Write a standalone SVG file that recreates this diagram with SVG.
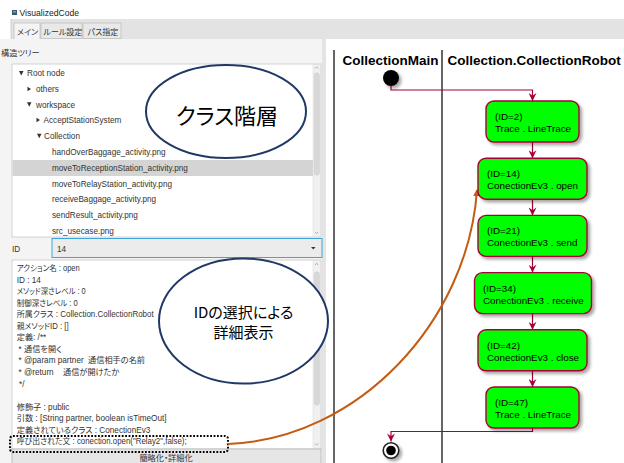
<svg xmlns="http://www.w3.org/2000/svg" width="624" height="463" viewBox="0 0 624 463">
<defs>
<style>
.ui{font-family:"Liberation Sans","Noto Sans CJK JP",sans-serif;font-size:8.2px;fill:#333;font-feature-settings:"palt"}
.tab{font-family:"Noto Sans CJK JP",sans-serif;font-size:8px;fill:#333;font-feature-settings:"palt"}
.box{fill:#00ff00;stroke:#a80036;stroke-width:1.4;filter:url(#sh)}
.bt{font-family:"Liberation Sans",sans-serif;font-size:9.8px;fill:#000}
.hd{font-family:"Liberation Sans",sans-serif;font-size:13.5px;font-weight:bold;fill:#000}
.conn{fill:none;stroke:#a80036;stroke-width:1.2}
.el{fill:#fff;stroke:#203864;stroke-width:2}
.big{font-family:"Noto Sans CJK JP",sans-serif;fill:#000;text-anchor:middle;font-feature-settings:"palt"}
.tri{fill:#333}
.sb{fill:#f0f0f0;stroke:#dcdcdc;stroke-width:0.5}
.thumb{fill:#d8d8d8;stroke:#c4c4c4;stroke-width:0.5}
.lane{stroke:#333;stroke-width:1.5}
</style>
<filter id="sh" x="-20%" y="-20%" width="150%" height="150%">
<feDropShadow dx="2.5" dy="2.5" stdDeviation="1.5" flood-color="#000" flood-opacity="0.35"/>
</filter>
<marker id="ar" viewBox="0 0 10 10" refX="10" refY="5" markerWidth="10" markerHeight="8" orient="auto" markerUnits="userSpaceOnUse">
<path d="M0,0 L10,5 L0,10 L3.5,5 z" fill="#a80036"/>
</marker>
<marker id="ao" viewBox="0 0 10 10" refX="9" refY="5" markerWidth="7" markerHeight="7" orient="auto" markerUnits="userSpaceOnUse">
<path d="M0,0 L10,5 L0,10 z" fill="#c55a11"/>
</marker>
</defs>

<rect x="0" y="0" width="624" height="463" fill="#fff"/>

<!-- title bar -->
<g id="titlebar">
<rect x="12" y="10" width="5" height="5" fill="#3c5a78"/>
<rect x="13" y="11" width="3" height="1.5" fill="#7fb24a"/>
<text class="ui" x="19.5" y="16" style="fill:#222;font-size:8.6px">VisualizedCode</text>
</g>

<!-- tab band -->
<g id="tabs">
<rect x="11" y="19" width="613" height="20" fill="#e3e3e3"/>
<line x1="11" y1="19" x2="11" y2="463" stroke="#c8c8c8" stroke-width="0.8"/>
<rect x="41" y="23" width="41" height="15.5" fill="#e9e9e9" stroke="#b9b9b9" stroke-width="0.7"/>
<rect x="83" y="23" width="38" height="15.5" fill="#e9e9e9" stroke="#b9b9b9" stroke-width="0.7"/>
<path d="M14,39.5 V23 H40 V39.5" fill="#f4f4f4" stroke="#b9b9b9" stroke-width="0.7"/>
<text class="tab" x="17" y="35">メイン</text>
<text class="tab" x="43.5" y="35">ルール設定</text>
<text class="tab" x="87.5" y="35">パス指定</text>
</g>

<!-- left panel background -->
<rect x="0" y="39" width="322" height="424" fill="#f4f4f4"/>
<rect x="322" y="39" width="4" height="424" fill="#e4e4e4"/>

<!-- structure tree -->
<g id="tree">
<text class="ui" x="1" y="56">構造ツリー</text>
<rect x="12" y="64" width="309" height="173" fill="#fff" stroke="#c8c8c8" stroke-width="0.8"/>
<rect x="12.5" y="160" width="300.5" height="16" fill="#d4d4d4"/>
<polygon class="tri" points="19,71 23.5,71 21.25,75.5"/>
<text class="ui" x="27" y="76">Root node</text>
<polygon class="tri" points="27.5,86.8 31,89 27.5,91.2"/>
<text class="ui" x="36" y="92">others</text>
<polygon class="tri" points="27,102.3 31.5,102.3 29.25,106.8"/>
<text class="ui" x="36" y="107.5">workspace</text>
<polygon class="tri" points="36.5,117.8 40,120 36.5,122.2"/>
<text class="ui" x="43.5" y="123">AcceptStationSystem</text>
<polygon class="tri" points="37,133.8 41.5,133.8 39.25,138.3"/>
<text class="ui" x="44" y="139">Collection</text>
<text class="ui" x="52" y="155">handOverBaggage_activity.png</text>
<text class="ui" x="52" y="171">moveToReceptionStation_activity.png</text>
<text class="ui" x="52" y="187">moveToRelayStation_activity.png</text>
<text class="ui" x="52" y="202">receiveBaggage_activity.png</text>
<text class="ui" x="52" y="218">sendResult_activity.png</text>
<text class="ui" x="52" y="234">src_usecase.png</text>
<rect class="sb" x="313" y="64.5" width="7.5" height="172"/>
<rect class="thumb" x="314.3" y="73" width="5" height="102" rx="2"/>
<path d="M315,68.5 L316.6,66.8 L318.2,68.5" fill="none" stroke="#888" stroke-width="0.6"/>
<path d="M315,232 L316.6,233.7 L318.2,232" fill="none" stroke="#888" stroke-width="0.6"/>
</g>

<!-- ID combo -->
<g id="idcombo">
<text class="ui" x="12" y="252">ID</text>
<rect x="52" y="238.5" width="270" height="19" fill="#ececec" stroke="#3ea3d8" stroke-width="1"/>
<text class="ui" x="57" y="252">14</text>
<polygon class="tri" points="311,247 315.5,247 313.25,249.5"/>
</g>

<!-- details text area -->
<g id="details">
<rect x="12" y="260" width="309" height="189" fill="#fff" stroke="#c8c8c8" stroke-width="0.8"/>
<rect class="sb" x="313" y="260.5" width="7.5" height="188"/>
<rect class="thumb" x="314.3" y="272" width="5" height="133" rx="2"/>
<path d="M315,265 L316.6,263.3 L318.2,265" fill="none" stroke="#888" stroke-width="0.6"/>
<path d="M315,443.5 L316.6,445.2 L318.2,443.5" fill="none" stroke="#888" stroke-width="0.6"/>
<text class="ui" x="16.7" y="271" textLength="63" lengthAdjust="spacingAndGlyphs">アクション名 : open</text>
<text class="ui" x="16.7" y="282.6">ID : 14</text>
<text class="ui" x="16.7" y="294.1" textLength="69" lengthAdjust="spacingAndGlyphs">メソッド深さレベル : 0</text>
<text class="ui" x="16.7" y="305.7" textLength="61" lengthAdjust="spacingAndGlyphs">制御深さレベル : 0</text>
<text class="ui" x="16.7" y="317.2" textLength="137" lengthAdjust="spacingAndGlyphs">所属クラス : Collection.CollectionRobot</text>
<text class="ui" x="16.7" y="328.8" textLength="52" lengthAdjust="spacingAndGlyphs">親メソッドID : []</text>
<text class="ui" x="16.7" y="340.3">定義: /**</text>
<text class="ui" x="18.5" y="351.9">* 通信を開く</text>
<text class="ui" x="18.5" y="363.4">* @param partner</text>
<text class="ui" x="88" y="363.4">通信相手の名前</text>
<text class="ui" x="18.5" y="375">* @return</text>
<text class="ui" x="63" y="375">通信が開けたか</text>
<text class="ui" x="19" y="386.5">*/</text>
<text class="ui" x="16.7" y="409.6">修飾子 : public</text>
<text class="ui" x="16.7" y="421.2">引数 : [String partner, boolean isTimeOut]</text>
<text class="ui" x="16.7" y="432.7">定義されているクラス : ConectionEv3</text>
<text class="ui" x="16.7" y="444.3" textLength="170" lengthAdjust="spacingAndGlyphs">呼び出された文 : conection.open("Relay2",false);</text>
</g>

<g id="button">
<rect x="12" y="449" width="309" height="15" fill="#e6e6e6" stroke="#b4b4b4" stroke-width="0.8"/>
<text class="ui" x="166" y="460.5" text-anchor="middle">簡略化・詳細化</text>
</g>

<!-- annotations -->
<g id="ellipse-class">
<ellipse class="el" cx="226" cy="111.5" rx="80" ry="46.5"/>
<text class="big" x="227" y="123.5" font-size="22">クラス階層</text>
</g>
<g id="ellipse-id">
<ellipse class="el" cx="243.5" cy="321" rx="84.5" ry="62.5"/>
<text class="big" x="243.5" y="318" font-size="15">IDの選択による</text>
<text class="big" x="243.5" y="337.5" font-size="15">詳細表示</text>
</g>
<g id="highlight">
<rect x="10" y="436" width="218" height="16" rx="3" fill="none" stroke="#000" stroke-width="2" stroke-dasharray="1.8 1.6"/>
</g>

<!-- activity diagram -->
<g id="lanes">
<line class="lane" x1="334" y1="50" x2="334" y2="463"/>
<line class="lane" x1="442" y1="50" x2="442" y2="463"/>
<text class="hd" x="342.5" y="65">CollectionMain</text>
<text class="hd" x="447.5" y="65">Collection.CollectionRobot</text>
</g>

<g id="connectors">
<path class="conn" d="M391,86 V90 H532.5 V101" marker-end="url(#ar)"/>
<path class="conn" d="M532.5,142 V158.2" marker-end="url(#ar)"/>
<path class="conn" d="M532.5,199.2 V215.4" marker-end="url(#ar)"/>
<path class="conn" d="M532.5,256.4 V272.6" marker-end="url(#ar)"/>
<path class="conn" d="M532.5,313.6 V329.8" marker-end="url(#ar)"/>
<path class="conn" d="M532.5,370.8 V387" marker-end="url(#ar)"/>
<path class="conn" d="M532.5,428 V431.5 H391 V441.5" marker-end="url(#ar)"/>
<path d="M228,444 C359,439 468,321 477,190" fill="none" stroke="#c55a11" stroke-width="2" marker-end="url(#ao)"/>
</g>

<g id="start">
<circle cx="391" cy="78" r="8" fill="#000" filter="url(#sh)"/>
</g>
<g id="n2">
<rect class="box" x="486" y="101" width="93" height="41" rx="8"/>
<text class="bt" x="495" y="120">(ID=2)</text>
<text class="bt" x="495" y="132">Trace . LineTrace</text>
</g>
<g id="n14">
<rect class="box" x="478" y="158.2" width="109" height="41" rx="8"/>
<text class="bt" x="487" y="177.2">(ID=14)</text>
<text class="bt" x="487" y="189.2">ConectionEv3 . open</text>
</g>
<g id="n21">
<rect class="box" x="478" y="215.4" width="109" height="41" rx="8"/>
<text class="bt" x="487" y="234.4">(ID=21)</text>
<text class="bt" x="487" y="246.4">ConectionEv3 . send</text>
</g>
<g id="n34">
<rect class="box" x="474.5" y="272.6" width="117" height="41" rx="8"/>
<text class="bt" x="483" y="291.6">(ID=34)</text>
<text class="bt" x="483" y="303.6">ConectionEv3 . receive</text>
</g>
<g id="n42">
<rect class="box" x="478" y="329.8" width="109" height="41" rx="8"/>
<text class="bt" x="487" y="348.8">(ID=42)</text>
<text class="bt" x="487" y="360.8">ConectionEv3 . close</text>
</g>
<g id="n47">
<rect class="box" x="486" y="387" width="93" height="41" rx="8"/>
<text class="bt" x="495" y="406">(ID=47)</text>
<text class="bt" x="495" y="418">Trace . LineTrace</text>
</g>
<g id="stop">
<circle cx="391" cy="450.5" r="7.8" fill="#fff" stroke="#222" stroke-width="1.6" filter="url(#sh)"/>
<circle cx="391" cy="450.5" r="4.8" fill="#000"/>
</g>
</svg>
